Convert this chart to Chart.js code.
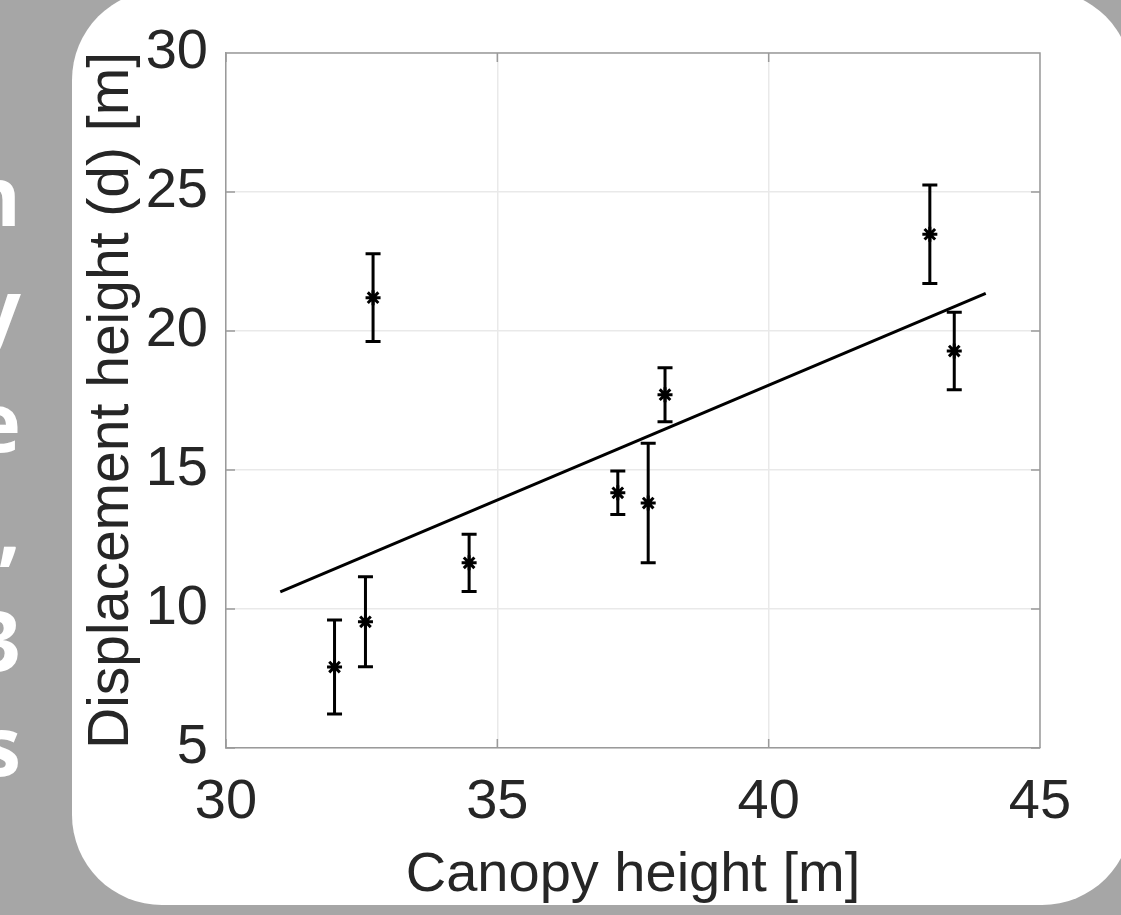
<!DOCTYPE html>
<html>
<head>
<meta charset="utf-8">
<title>Displacement height vs canopy height</title>
<script src="https://cdn.jsdelivr.net/npm/chart.js@4/dist/chart.umd.min.js"></script>
<style>
	html, body { margin: 0; padding: 0; background: #a6a6a6; }
	canvas { display: block; }
</style>
</head>
<body>
<canvas id="chart" width="1121" height="915"></canvas>
<script>

// canopy height [m] of each site
const canopyHeight = [32.0, 32.57, 32.71, 34.48, 37.22, 37.78, 38.09, 42.97, 43.42];
// displacement height d [m]
const displacement = [7.91, 9.54, 21.2, 11.66, 14.18, 13.81, 17.71, 23.48, 19.28];
// half length of the error bars [m]
const displacementErr = [1.69, 1.62, 1.58, 1.03, 0.78, 2.15, 0.97, 1.77, 1.39];

// fitted line, end points
const fitX = [31.0, 44.0];
const fitY = [10.62, 21.35];

const xTicks = [30, 35, 40, 45];
const yTicks = [5, 10, 15, 20, 25, 30];

// tail ends of the slide text cut off on the left
const sideLetters = ['n', 'y', 'e', ',', '3', 's'];
const sideBaselines = [226, 339, 452, 556, 671, 776];


const font = "'Liberation Sans', Arial, Helvetica, sans-serif";
const textColor = '#262626';
const boxColor = '#9a9a9a';
const gridColor = '#e9e9e9';


const background = {
	id: 'background',
	beforeDraw(chart) {
		const ctx = chart.ctx;
		ctx.save();
		ctx.fillStyle = '#a6a6a6';
		ctx.fillRect(0, 0, chart.width, chart.height);

		ctx.fillStyle = '#ffffff';
		ctx.beginPath();
		ctx.roundRect(72, -10, 1060, 915, 90);
		ctx.fill();

		ctx.fillStyle = '#ffffff';
		ctx.font = "bold 82px 'Open Sans', 'DejaVu Sans', sans-serif";
		ctx.textAlign = 'right';
		ctx.textBaseline = 'alphabetic';
		sideLetters.forEach(function(txt, i) {
			ctx.fillText(txt, 21, sideBaselines[i]);
		});
		ctx.restore();
	}
};


// matlab style box: top/right edges and inward tick marks
const box = {
	id: 'box',
	afterDraw(chart) {
		const ctx = chart.ctx;
		const area = chart.chartArea;
		const xs = chart.scales.x;
		const ys = chart.scales.y;
		const len = 9;

		ctx.save();
		ctx.strokeStyle = boxColor;
		ctx.lineWidth = 1.5;
		ctx.beginPath();
		ctx.moveTo(area.left, area.top);
		ctx.lineTo(area.right, area.top);
		ctx.lineTo(area.right, area.bottom);

		xTicks.forEach(function(v) {
			const px = xs.getPixelForValue(v);
			ctx.moveTo(px, area.bottom);
			ctx.lineTo(px, area.bottom - len);
			ctx.moveTo(px, area.top);
			ctx.lineTo(px, area.top + len);
		});
		yTicks.forEach(function(v) {
			const py = ys.getPixelForValue(v);
			ctx.moveTo(area.left, py);
			ctx.lineTo(area.left + len, py);
			ctx.moveTo(area.right, py);
			ctx.lineTo(area.right - len, py);
		});
		ctx.stroke();
		ctx.restore();
	}
};


const errorBars = {
	id: 'errorBars',
	afterDatasetsDraw(chart) {
		const ctx = chart.ctx;
		const xs = chart.scales.x;
		const ys = chart.scales.y;
		const cap = 7.5;

		ctx.save();
		ctx.strokeStyle = '#000000';
		ctx.lineWidth = 3;
		ctx.beginPath();
		canopyHeight.forEach(function(h, i) {
			const px = xs.getPixelForValue(h);
			const top = ys.getPixelForValue(displacement[i] + displacementErr[i]);
			const bottom = ys.getPixelForValue(displacement[i] - displacementErr[i]);
			ctx.moveTo(px, top);
			ctx.lineTo(px, bottom);
			ctx.moveTo(px - cap, top);
			ctx.lineTo(px + cap, top);
			ctx.moveTo(px - cap, bottom);
			ctx.lineTo(px + cap, bottom);
		});
		ctx.stroke();
		ctx.restore();
	}
};


const points = canopyHeight.map(function(h, i) {
	return {x: h, y: displacement[i]};
});
const fit = fitX.map(function(x, i) {
	return {x: x, y: fitY[i]};
});


new Chart(document.getElementById('chart'), {
	type: 'scatter',
	data: {
		datasets: [{
			data: points,
			pointStyle: 'star',
			pointRadius: 7.5,
			borderColor: '#000000',
			backgroundColor: '#000000',
			borderWidth: 3,
		}, {
			type: 'line',
			data: fit,
			borderColor: '#000000',
			borderWidth: 3,
			pointRadius: 0,
			fill: false,
		}]
	},
	options: {
		responsive: false,
		animation: false,
		devicePixelRatio: 1,
		layout: {
			padding: {left: 0, top: 53, right: 81, bottom: 0}
		},
		plugins: {
			legend: {display: false},
			tooltip: {enabled: false}
		},
		scales: {
			x: {
				type: 'linear',
				min: 30,
				max: 45,
				afterFit(scale) {
					scale.height = 167;
				},
				afterBuildTicks(scale) {
					scale.ticks = xTicks.map(function(v) { return {value: v}; });
				},
				grid: {
					color: gridColor,
					lineWidth: 1.5,
					drawTicks: false
				},
				border: {display: true, color: boxColor, width: 1.5},
				ticks: {
					padding: 21,
					color: textColor,
					font: {family: font, size: 56}
				},
				title: {
					display: true,
					text: 'Canopy height [m]',
					color: textColor,
					font: {family: font, size: 56},
					padding: {top: 0, bottom: 6}
				}
			},
			y: {
				type: 'linear',
				min: 5,
				max: 30,
				afterFit(scale) {
					scale.width = 226;
				},
				afterBuildTicks(scale) {
					scale.ticks = yTicks.map(function(v) { return {value: v}; });
				},
				grid: {
					color: gridColor,
					lineWidth: 1.5,
					drawTicks: false
				},
				border: {display: true, color: boxColor, width: 1.5},
				ticks: {
					padding: 18,
					color: textColor,
					font: {family: font, size: 56}
				},
				title: {
					display: true,
					text: 'Displacement height (d) [m]',
					color: textColor,
					font: {family: font, size: 57},
					padding: {top: 78, bottom: 0}
				}
			}
		}
	},
	plugins: [background, box, errorBars]
});

</script>
</body>
</html>
